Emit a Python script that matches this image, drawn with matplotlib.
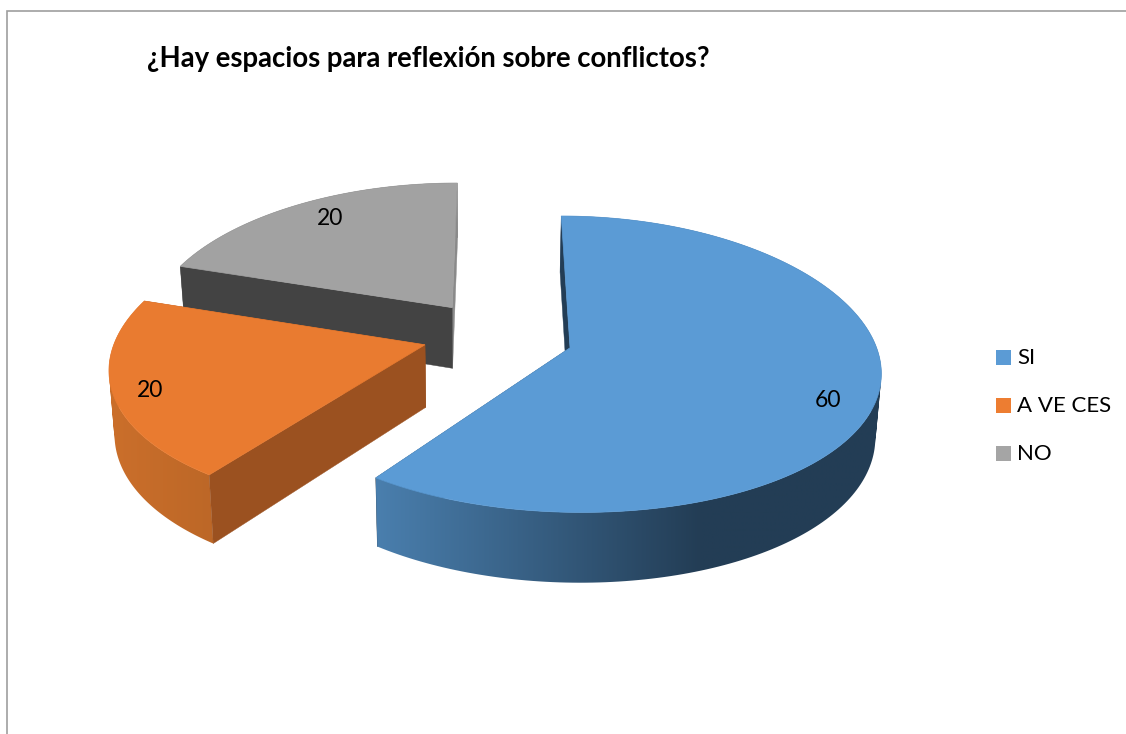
import numpy as np
import matplotlib
matplotlib.use("Agg")
import matplotlib.pyplot as plt
from matplotlib.patches import Polygon, Rectangle
from matplotlib.path import Path

TITLE = "¿Hay espacios para reflexión sobre conflictos?"
labels = ["SI", "A VE CES", "NO"]
values = [60, 20, 20]

legend_colors = ["#5B9BD5", "#ED7D31", "#A5A5A5"]
face_colors = ["#5B9BD5", "#E97B30", "#A2A2A2"]
# outer wall shading: colour at left / right end of the gradient, x range in px
wall_left = ["#4A7FAE", "#CB6F2B", "#434343"]
wall_right = ["#233D55", "#BC6727", "#434343"]
wall_range = [(375, 700), (110, 216), (170, 460)]
cut_colors = ["#233D55", "#9B5120", "#434343"]
back_colors = ["#233D55", "#9B5120", "#8A8A8A"]

# where the value labels sit on each slice
label_radius = [0.852, 0.89, 0.83]
label_shift = [6, -2, 2.5]
# small corrections per slice, px and x scale
lift = [0, -3, -2]
slide = [3, 0, -1.5]
squeeze = [0.985, 1, 1]

# pie projection, in pixels
CX, CY = 496, 337
RX, RY = 308, 144
PERSP_X = 0.14
PERSP_Y = 0.11
DEPTH = 62
EXPLODE = 0.24


def project(x, y, bottom=False):
    sx = CX + RX * x / (1 - PERSP_X * y)
    s = 1 / (1 - PERSP_Y * y)
    sy = CY + RY * y * s
    if bottom:
        sy = sy + DEPTH * s
        sx = 480 + (sx - 480) * 0.985
    return sx, sy


def mix(c1, c2, t):
    a = np.array(matplotlib.colors.to_rgb(c1))
    b = np.array(matplotlib.colors.to_rgb(c2))
    return a + (b - a) * t


def cut_side(i, ox, oy, a, col):
    ex = ox + squeeze[i] * np.sin(a)
    ey = oy - np.cos(a)
    pts = np.array([project(ox, oy), project(ex, ey), project(ex, ey, True), project(ox, oy, True)])
    pts[:, 0] += slide[i]
    pts[:, 1] += lift[i]
    ax.add_patch(Polygon(pts, closed=True, facecolor=col, edgecolor=col, lw=0.3))


fig = plt.figure(figsize=(11.26, 7.34), dpi=100)
ax = fig.add_axes([0, 0, 1, 1])

# frame of the chart area
ax.plot([7, 7, 1126], [734, 10.5, 10.5], color="#9E9E9E", lw=1.2, solid_joinstyle="miter")

total = sum(values)
edges = np.cumsum([0] + values) / total * 2 * np.pi

for i in [2, 1, 0]:  # back to front
    a0, a1 = edges[i], edges[i + 1]
    mid = (a0 + a1) / 2
    ox = EXPLODE * np.sin(mid)
    oy = -EXPLODE * np.cos(mid)
    th = np.linspace(a0, a1, 200)
    rx = ox + squeeze[i] * np.sin(th)
    ry = oy - np.cos(th)
    tx, ty = project(rx, ry)
    bx, by = project(rx, ry, True)
    tx, bx = tx + slide[i], bx + slide[i]
    ty, by = ty + lift[i], by + lift[i]

    at_back = np.cos(mid) > 0
    if not at_back:
        cut_side(i, ox, oy, a1, back_colors[i])

    # rounded wall: a horizontal gradient clipped to the strip of quads
    quads = []
    for k in range(len(th) - 1):
        q = np.array([(tx[k], ty[k]), (tx[k + 1], ty[k + 1]), (bx[k + 1], by[k + 1]), (bx[k], by[k])])
        area = np.sum(q[:, 0] * np.roll(q[:, 1], -1) - np.roll(q[:, 0], -1) * q[:, 1])
        if area < 0:
            q = q[::-1]
        quads.append(Path(np.vstack([q, q[:1]]), closed=True))
    strip = Path.make_compound_path(*quads)
    x0, x1 = min(tx.min(), bx.min()), max(tx.max(), bx.max())
    y0, y1 = min(ty.min(), by.min()), max(ty.max(), by.max())
    xs = np.linspace(x0, x1, 512)
    t = np.clip((xs - wall_range[i][0]) / (wall_range[i][1] - wall_range[i][0]), 0, 1)
    grad = np.array([mix(wall_left[i], wall_right[i], v) for v in t])[np.newaxis, :, :]
    im = ax.imshow(grad, extent=(x0, x1, y1, y0), aspect="auto", interpolation="bilinear", zorder=1)
    im.set_clip_path(strip, transform=ax.transData)

    # flat sides have to go over the wall, and under the top
    if at_back:
        cut_side(i, ox, oy, a1, back_colors[i])
    cut_side(i, ox, oy, a0, cut_colors[i])

    cx_s, cy_s = project(ox, oy)
    top = [(cx_s + slide[i], cy_s + lift[i])] + list(zip(tx, ty))
    ax.add_patch(Polygon(top, closed=True, facecolor=face_colors[i], edgecolor=face_colors[i], lw=0.5, zorder=2))

ax.set_xlim(0, 1126)
ax.set_ylim(734, 0)
ax.set_aspect("auto")
ax.axis("off")

# value labels, on top of everything
for i in range(len(values)):
    mid = (edges[i] + edges[i + 1]) / 2
    ox = EXPLODE * np.sin(mid)
    oy = -EXPLODE * np.cos(mid)
    a = mid + np.radians(label_shift[i])
    lx, ly = project(ox + label_radius[i] * np.sin(a), oy - label_radius[i] * np.cos(a))
    ax.text(lx + slide[i], ly + lift[i], str(values[i]), ha="center", va="center", fontsize=16.5, family="Lato", color="black", zorder=5)

ax.text(147, 59.5, TITLE, ha="left", va="center", fontsize=19.8, fontweight="bold", family="Lato", color="black")

# legend
for i, name in enumerate(labels):
    y = 357.5 + 48 * i
    ax.add_patch(Rectangle((996, y - 7.5), 15, 15, facecolor=legend_colors[i], edgecolor="none"))
    ax.text(1017, y, name, ha="left", va="center", fontsize=16, family="Lato", color="black")

fig.savefig("out.png", dpi=100)
